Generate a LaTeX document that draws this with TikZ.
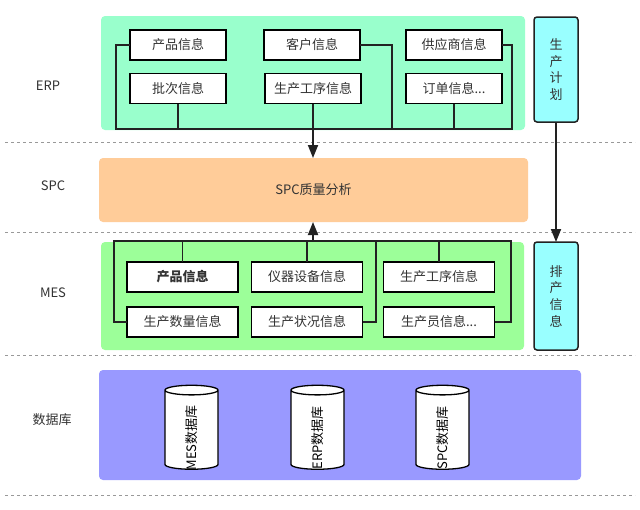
\documentclass[tikz,border=0pt]{standalone}
\usepackage{fontspec}
\setmainfont{Noto Sans CJK SC}
\usetikzlibrary{arrows.meta,shapes.geometric}
\definecolor{erpc}{HTML}{99FFCC}
\definecolor{spcc}{HTML}{FFCC99}
\definecolor{mesc}{HTML}{9CFF99}
\definecolor{dbc}{HTML}{9999FF}
\definecolor{sidec}{HTML}{99FFFF}
\definecolor{txt}{HTML}{333333}
\definecolor{ln}{HTML}{222222}
\newcommand{\dbtext}[1]{\makebox[0pt][c]{\hspace*{-16pt}#1}}
\begin{document}
\begin{tikzpicture}[x=1pt,y=-1pt,
  layer/.style={rounded corners=4pt,inner sep=0pt,outer sep=0pt},
  info/.style={draw=black,line width=1.5pt,fill=white,inner sep=0pt,outer sep=0pt,
    minimum height=30pt,text=txt,font=\fontsize{13}{16}\selectfont},
  einfo/.style={info,minimum width=96pt},
  minfo/.style={info,minimum width=111pt},
  side/.style={draw=ln,line width=1.5pt,fill=sidec,rounded corners=3pt,inner sep=0pt,outer sep=0pt,
    minimum width=44pt,text=txt,align=center,font=\fontsize{13}{16.7}\selectfont},
  lbl/.style={text=txt,font=\fontsize{13}{16}\selectfont},
  conn/.style={draw=ln,line width=1.8pt},
  arr/.style={conn,-{Triangle[length=13pt,width=10pt]}},
  sep/.style={draw=gray!80,dashed,line width=0.8pt},
  db/.style={cylinder,draw=black,line width=1.3pt,fill=white,rotate=90,aspect=0.8,
    minimum width=53pt,minimum height=84pt,inner sep=0pt,font=\fontsize{13}{16}\selectfont}]
\useasboundingbox (0,0) rectangle (640,509);
\fill[white] (0,0) rectangle (640,509);
% separators
\draw[sep] (5,142) -- (635,142);
\draw[sep] (5,232) -- (635,232);
\draw[sep] (5,355) -- (635,355);
\draw[sep] (5,495) -- (635,495);
% layer backgrounds
\node[layer,fill=erpc,minimum width=424pt,minimum height=114pt] (erp) at (313,73) {};
\node[layer,fill=spcc,minimum width=429pt,minimum height=64pt,text=txt,font=\fontsize{13}{16}\selectfont] (spc) at (313.5,190) {SPC质量分析};
\node[layer,fill=mesc,minimum width=423pt,minimum height=108pt] (mes) at (312.5,296) {};
\node[layer,fill=dbc,minimum width=482pt,minimum height=110pt] (dbl) at (340,425) {};
% layer labels
\node[lbl] (lerp) at (48,86) {ERP};
\node[lbl] (lspc) at (53,186) {SPC};
\node[lbl] (lmes) at (53,293) {MES};
\node[lbl] (ldb) at (52,420) {数据库};
% ERP info boxes
\node[einfo] (e1) at (178,45) {产品信息};
\node[einfo] (e2) at (312,45) {客户信息};
\node[einfo] (e3) at (454,45) {供应商信息};
\node[einfo] (e4) at (178,88.5) {批次信息};
\node[einfo] (e5) at (313,88.5) {生产工序信息};
\node[einfo] (e6) at (454,88.5) {订单信息...};
% MES info boxes
\node[minfo] (m1) at (182.5,277) {\textbf{产品信息}};
\node[minfo] (m2) at (307,277) {仪器设备信息};
\node[minfo] (m3) at (439,277) {生产工序信息};
\node[minfo] (m4) at (182.5,322) {生产数量信息};
\node[minfo] (m5) at (307,322) {生产状况信息};
\node[minfo] (m6) at (439,322) {生产员信息...};
% side boxes
\node[side,minimum height=105pt] (plan) at (556,69.5) {生\\产\\计\\划};
\node[side,minimum height=108pt] (sched) at (556,296) {排\\产\\信\\息};
% databases
\node[db] (d1) at (191.5,430) {\dbtext{MES数据库}};
\node[db] (d2) at (317.5,430) {\dbtext{ERP数据库}};
\node[db] (d3) at (442.5,430) {\dbtext{SPC数据库}};
% ERP connectors
\coordinate (ebL) at (116,129);
\coordinate (ebR) at (512,129);
\coordinate (eb2) at (392,129);
\draw[conn] (e1.west) -| (ebL) -- (ebR) |- (e3.east);
\draw[conn] (e2.east) -| (eb2);
\draw[conn] (e4.south) -- (e4.south |- ebL);
\draw[conn] (e6.south) -- (e6.south |- ebL);
\draw[arr] (e5.south) -- (e5.south |- spc.north);
% MES connectors
\coordinate (mbL) at (114,241);
\coordinate (mbR) at (511,241);
\coordinate (mb2) at (376,241);
\coordinate (mbA) at (313,241);
\draw[conn] (m4.west) -| (mbL) -- (mbR) |- (m6.east);
\draw[conn] (m5.east) -| (mb2);
\draw[conn] (m1.north) -- (m1.north |- mbL);
\draw[conn] (m2.north) -- (m2.north |- mbL);
\draw[conn] (m3.north) -- (m3.north |- mbL);
\draw[arr] (mbA) -- (mbA |- spc.south);
% side arrow
\draw[arr] (plan.south) -- (sched.north);
\end{tikzpicture}
\end{document}
